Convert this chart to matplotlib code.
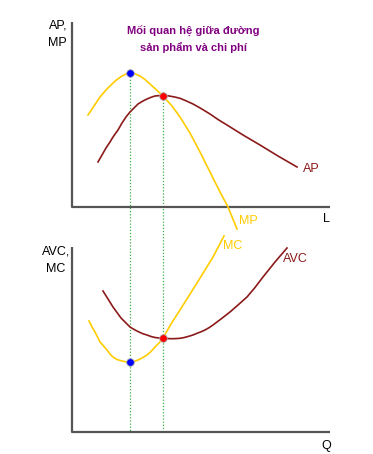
import numpy as np
import matplotlib
matplotlib.use("Agg")
import matplotlib.pyplot as plt

plt.rcParams['font.family'] = ['Liberation Sans', 'DejaVu Sans']

# Curves (pixel space of the original diagram)
mp_x = [88, 94, 100, 106, 112, 117, 122, 126, 130, 135, 140, 145, 150, 156, 163, 172, 180, 190, 200, 210, 220, 228, 237]
mp_y = [115, 106, 97, 90, 84, 79.5, 76, 74, 73, 73.8, 76, 79.5, 84, 89.5, 96, 106, 117, 133, 152, 172, 192, 207, 229]

ap_x = [98, 102, 106, 110, 113, 118, 122, 126, 130, 134, 138, 143, 147, 151, 155, 159, 163, 168, 172, 176, 180, 186, 193, 201, 210, 218, 227, 243, 260, 278, 297]
ap_y = [162, 155, 148, 142, 137, 130, 123, 117, 112, 108, 104, 101, 99, 97.3, 96, 95.6, 95.5, 95.8, 96.5, 97.3, 98.3, 100.8, 104, 108.5, 114, 119.5, 125, 135, 145, 156, 167]

mc_x = [89, 92, 95, 98, 100, 104, 107, 110, 113, 117, 122, 126, 130, 134, 138, 142, 147, 151, 155, 159, 163, 167, 171, 180, 197, 213, 224]
mc_y = [321, 327, 332, 338, 342, 346.5, 350, 354, 357, 359.5, 361, 361.8, 362, 361.5, 360, 358, 355, 351.5, 347, 343, 338, 331, 324, 310, 283, 257, 236]

avc_x = [103, 108, 113, 117, 121, 126, 130, 135, 139, 143, 147, 151, 155, 159, 163, 168, 172, 176, 180, 184, 188, 193, 197, 201, 205, 209, 213, 221, 230, 238, 247, 255, 263, 275, 287]
avc_y = [291, 299, 307, 312.5, 318, 323, 327, 330, 332, 333.8, 335, 336.5, 337.5, 338, 338.3, 338.6, 338.7, 338.6, 338.3, 337.6, 336.5, 335, 333.3, 331.8, 330, 327.7, 325, 319, 312, 305, 297, 287.5, 277, 262, 248]

# key points: max MP / min MC (blue), max AP / min AVC (red)
blue_x = [130, 130]
blue_y = [73, 362]
red_x = [163, 163]
red_y = [96, 338]

title_lines = ["Mối quan hệ giữa đường", "sản phẩm và chi phí"]

YELLOW = '#FFCC00'
DARKRED = '#8B1A1A'
AXIS = '#555555'
GREEN = '#3CB043'

fig = plt.figure(figsize=(3.73, 4.54), dpi=100)
ax = fig.add_axes([0, 0, 1, 1])
ax.set_xlim(0, 373)
ax.set_ylim(454, 0)
ax.axis('off')

# axes of both panels
ax.plot([72, 72, 330], [22, 207, 207], color=AXIS, lw=1.6, solid_capstyle='butt')
ax.plot([72, 72, 330], [247, 432, 432], color=AXIS, lw=1.6, solid_capstyle='butt')

# dotted guide lines
ax.plot([blue_x[0], blue_x[1]], [blue_y[0], 432], color=GREEN, lw=0.9, ls=(0, (1, 1.5)), zorder=1)
ax.plot([red_x[0], red_x[1]], [red_y[0], 432], color=GREEN, lw=0.9, ls=(0, (1, 1.5)), zorder=1)

ax.plot(ap_x, ap_y, color=DARKRED, lw=1.2, zorder=2)
ax.plot(mp_x, mp_y, color=YELLOW, lw=1.2, zorder=2)
ax.plot(avc_x, avc_y, color=DARKRED, lw=1.2, zorder=2)
ax.plot(mc_x, mc_y, color=YELLOW, lw=1.2, zorder=2)

ax.plot(blue_x, blue_y, 'o', color='#0000FF', ms=5.5, mec='#AAAAAA', mew=0.6, zorder=3)
ax.plot(red_x, red_y, 'o', color='#FF0000', ms=5.5, mec='#AAAAAA', mew=0.6, zorder=3)

fs = 9
ax.text(58, 25, "AP,", ha='center', va='center', fontsize=fs)
ax.text(57, 43, "MP", ha='center', va='center', fontsize=fs)
ax.text(56, 252, "AVC,", ha='center', va='center', fontsize=fs)
ax.text(56, 269, "MC", ha='center', va='center', fontsize=fs)
ax.text(326, 219, "L", ha='center', va='center', fontsize=fs)
ax.text(326, 446, "Q", ha='center', va='center', fontsize=fs)

ax.text(303, 169, "AP", ha='left', va='center', fontsize=fs, color=DARKRED)
ax.text(239, 221, "MP", ha='left', va='center', fontsize=fs, color=YELLOW)
ax.text(223, 246, "MC", ha='left', va='center', fontsize=fs, color=YELLOW)
ax.text(283, 259, "AVC", ha='left', va='center', fontsize=fs, color=DARKRED)

ax.text(193.5, 31, title_lines[0], ha='center', va='center', fontsize=8,
        fontweight='bold', color='#800080')
ax.text(193.5, 48, title_lines[1], ha='center', va='center', fontsize=8,
        fontweight='bold', color='#800080')

fig.savefig("out.png", dpi=100)
